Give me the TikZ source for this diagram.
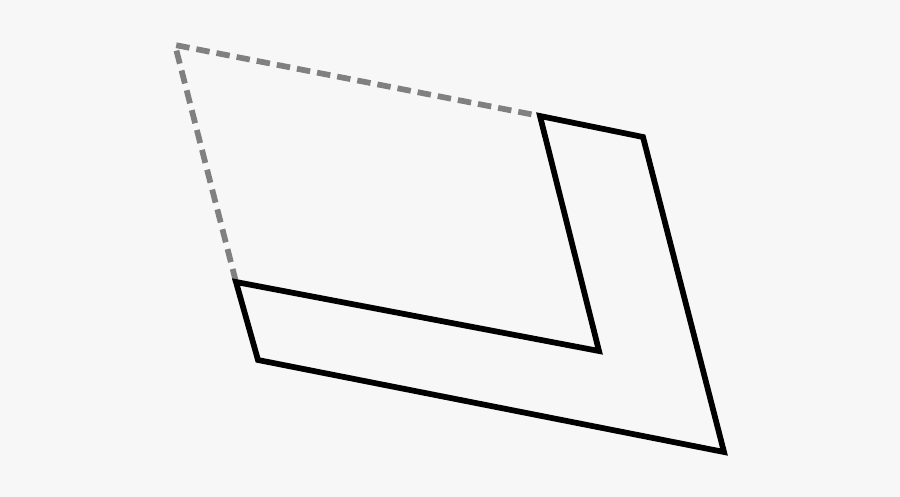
\documentclass[tikz,border=0pt]{standalone}
\usepackage{tikz}

\definecolor{bggray}{HTML}{F7F7F7}
\definecolor{hidden}{HTML}{808080}

\begin{document}
\begin{tikzpicture}[x=0.02cm,y=-0.02cm,
  edge/.style={line width=0.115cm, line join=miter},
  hiddenedge/.style={line width=0.115cm, hidden, dash pattern=on 0.27cm off 0.14cm}]
\fill[bggray] (0,0) rectangle (900,497);
\useasboundingbox (0,0) rectangle (900,497);

\coordinate (A) at (540,116);
\coordinate (B) at (643,137);
\coordinate (C) at (724,452);
\coordinate (D) at (258,360);
\coordinate (E) at (236,282);
\coordinate (F) at (599,351);
\coordinate (G) at (175,45);

\draw[hiddenedge] (E) -- (G) -- (A);

\draw[edge] (A) -- (B) -- (C) -- (D) -- (E) -- (F) -- cycle;
\end{tikzpicture}
\end{document}
